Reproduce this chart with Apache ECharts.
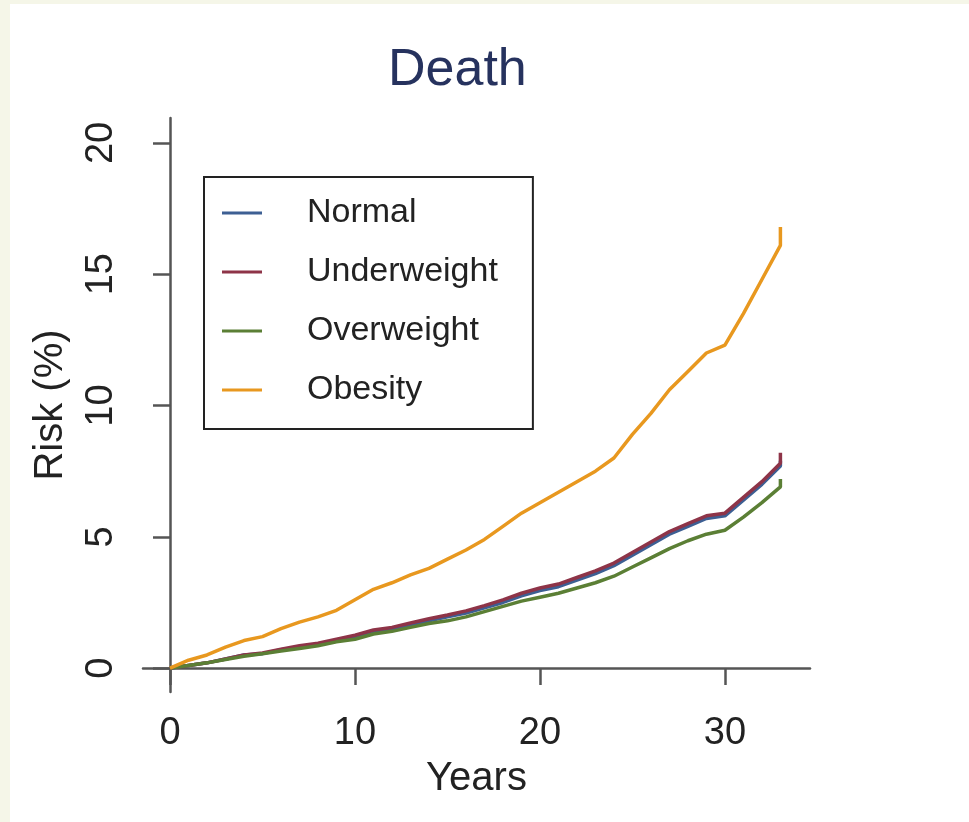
<!DOCTYPE html>
<html>
<head>
<meta charset="utf-8">
<script src="https://cdn.jsdelivr.net/npm/echarts@6/dist/echarts.min.js"></script>
<style>
html,body{margin:0;padding:0;background:#fff;}
#c{width:969px;height:822px;}
</style>
</head>
<body>
<div id="c"></div>
<script>
// Years since baseline (last point repeated for the final vertical jump)
const years = [0,1,2,3,4,5,6,7,8,9,10,11,12,13,14,15,16,17,18,19,20,21,22,23,24,25,26,27,28,29,30,31,32,33,33];
// Cumulative risk of death (%)
const normal      = [0,0.1,0.2,0.35,0.5,0.55,0.7,0.8,0.9,1.05,1.2,1.4,1.5,1.65,1.8,1.95,2.1,2.3,2.5,2.75,2.95,3.1,3.35,3.6,3.9,4.3,4.7,5.1,5.4,5.7,5.8,6.4,7.0,7.7,7.9];
const underweight = [0,0.1,0.2,0.35,0.5,0.58,0.72,0.85,0.95,1.1,1.25,1.45,1.55,1.72,1.88,2.02,2.18,2.38,2.6,2.85,3.05,3.2,3.45,3.7,4.0,4.4,4.8,5.2,5.5,5.8,5.9,6.5,7.1,7.8,8.2];
const overweight  = [0,0.1,0.2,0.33,0.45,0.55,0.65,0.75,0.85,1.0,1.1,1.3,1.4,1.55,1.7,1.8,1.95,2.15,2.35,2.55,2.7,2.85,3.05,3.25,3.5,3.85,4.2,4.55,4.85,5.1,5.25,5.75,6.3,6.9,7.2];
const obesity     = [0,0.3,0.5,0.8,1.05,1.2,1.5,1.75,1.95,2.2,2.6,3.0,3.25,3.55,3.8,4.15,4.5,4.9,5.4,5.9,6.3,6.7,7.1,7.5,8.0,8.9,9.7,10.6,11.3,12.0,12.3,13.5,14.8,16.1,16.8];
const seriesNames = ['Normal','Underweight','Overweight','Obesity'];
const seriesColors = ['#3d5f93','#8e3448','#5b7f35','#e8981f'];
const xTicks = [0,10,20,30];
const yTicks = [0,5,10,15,20];

const allValues = [normal, underweight, overweight, obesity];
const chart = echarts.init(document.getElementById('c'));
const axisColor = '#555';
const font = 'Liberation Sans, Arial, Helvetica, sans-serif';

chart.setOption({
  backgroundColor: '#ffffff',
  animation: false,
  title: {
    text: 'Death',
    left: 383, top: 40,
    textStyle: {fontFamily: font, fontSize: 52, fontWeight: 'normal', color: '#26325e'}
  },
  graphic: [
    {type:'rect', left:0, top:0, shape:{width:10, height:822}, style:{fill:'#f5f6e8'}, z:-10},
    {type:'rect', left:0, top:0, shape:{width:969, height:4}, style:{fill:'#f5f6e8'}, z:-10}
  ],
  legend: {
    orient: 'vertical',
    left: 204, top: 177,
    data: seriesNames,
    icon: 'rect',
    itemWidth: 40, itemHeight: 3,
    itemGap: 25,
    padding: [19, 35, 22, 18],
    borderColor: '#222', borderWidth: 2,
    textStyle: {fontFamily: font, fontSize: 34, color: '#222', padding: [0,0,0,40]}
  },
  grid: {left: 143, right: 159, top: 118, bottom: 130},
  xAxis: {
    type: 'value', min: -1.46, max: 34.6,
    name: 'Years', nameLocation: 'middle', nameGap: 67,
    nameTextStyle: {fontFamily: font, fontSize: 40, color: '#222'},
    axisLine: {lineStyle: {color: axisColor, width: 2.5}},
    axisTick: {show: true, length: 17, lineStyle: {color: axisColor, width: 2.5}, customValues: xTicks},
    axisLabel: {fontFamily: font, fontSize: 38, color: '#222', margin: 23, customValues: xTicks},
    splitLine: {show: false}
  },
  yAxis: {
    type: 'value', min: -0.91, max: 20.95,
    name: 'Risk (%)', nameLocation: 'middle', nameGap: 72, nameRotate: 90,
    nameTextStyle: {fontFamily: font, fontSize: 40, color: '#222'},
    axisLine: {show: true, lineStyle: {color: axisColor, width: 2.5}},
    axisTick: {show: true, length: 17, lineStyle: {color: axisColor, width: 2.5}, customValues: yTicks},
    axisLabel: {fontFamily: font, fontSize: 38, color: '#222', margin: 22, rotate: 90, customValues: yTicks},
    splitLine: {show: false}
  },
  series: seriesNames.map((n, i) => ({
    name: n, type: 'line', showSymbol: false,
    data: years.map((y, k) => [y, allValues[i][k]]),
    lineStyle: {width: 3.5, color: seriesColors[i]},
    itemStyle: {color: seriesColors[i]}
  }))
});
</script>
</body>
</html>
